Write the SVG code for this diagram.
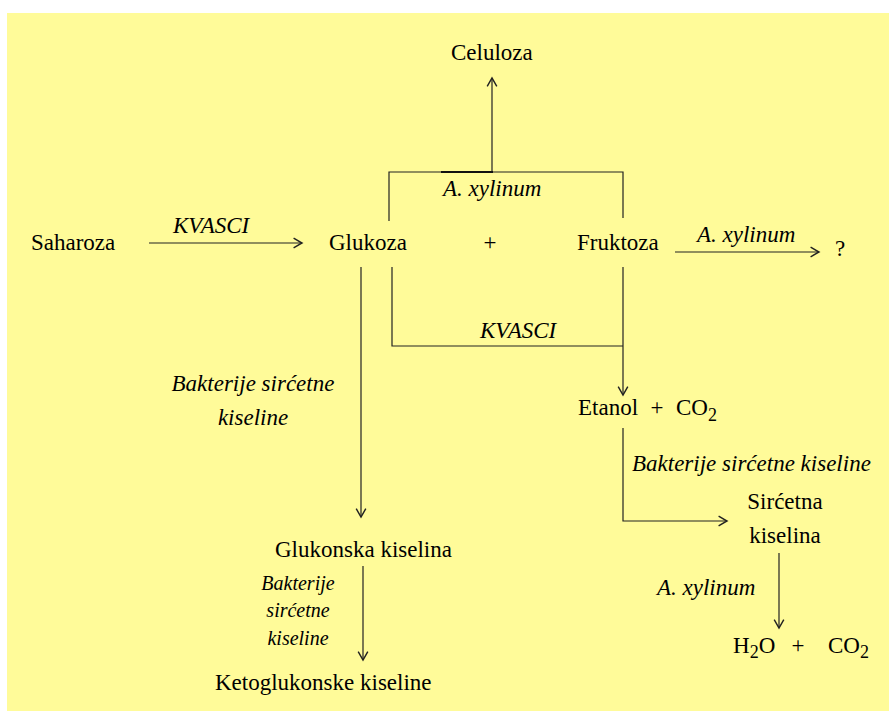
<svg xmlns="http://www.w3.org/2000/svg" width="889" height="711" viewBox="0 0 889 711">
<defs>
<style>
.t{font-family:'Liberation Serif','Times New Roman','DejaVu Serif',serif;font-size:23px;fill:#000}
.i{font-style:italic}
.s{font-size:20px}
.sub{font-size:18px}
.ln{fill:none;stroke:#222;stroke-width:1.2}
</style>
<marker id="ah" markerUnits="userSpaceOnUse" markerWidth="12" markerHeight="12" viewBox="-8 -5 10 10" refX="0" refY="0" orient="auto">
<path d="M-7,-4 L0,0 L-7,4" fill="none" stroke="#222" stroke-width="1.2"/>
</marker>
</defs>
<rect x="0" y="0" width="889" height="711" fill="#fff"/>
<rect x="7" y="13" width="882" height="698" fill="#FFFB99"/>
<g id="connectors">
<line class="ln" x1="492" y1="172" x2="492" y2="78" marker-end="url(#ah)"/>
<polyline class="ln" points="389,221 389,172 623,172 623,218"/>
<line x1="441" y1="172" x2="493" y2="172" stroke="#111" stroke-width="2.2"/>
<line class="ln" x1="149" y1="243" x2="302" y2="243" marker-end="url(#ah)"/>
<line class="ln" x1="675" y1="252" x2="819" y2="252" marker-end="url(#ah)"/>
<line class="ln" x1="361" y1="267" x2="361" y2="517" marker-end="url(#ah)"/>
<polyline class="ln" points="392,267 392,346 623,346"/>
<line class="ln" x1="623" y1="267" x2="623" y2="395" marker-end="url(#ah)"/>
<polyline class="ln" points="623,428 623,521 727,521" marker-end="url(#ah)"/>
<line class="ln" x1="779" y1="553" x2="779" y2="628" marker-end="url(#ah)"/>
<line class="ln" x1="363" y1="566" x2="363" y2="660" marker-end="url(#ah)"/>
</g>
<g id="celuloza"><text class="t" x="451" y="60">Celuloza</text></g>
<g id="saharoza"><text class="t" x="31" y="250">Saharoza</text></g>
<g id="label-kvasci-1"><text class="t i" x="173" y="233">KVASCI</text></g>
<g id="glukoza"><text class="t" x="329" y="250">Glukoza</text></g>
<g id="plus-1"><text class="t" x="490" y="250" text-anchor="middle">+</text></g>
<g id="fruktoza"><text class="t" x="577" y="250">Fruktoza</text></g>
<g id="label-xylinum-1"><text class="t i" x="443" y="196">A. xylinum</text></g>
<g id="label-xylinum-2"><text class="t i" x="697" y="242">A. xylinum</text></g>
<g id="question"><text class="t" x="835" y="256">?</text></g>
<g id="label-kvasci-2"><text class="t i" x="480" y="338">KVASCI</text></g>
<g id="label-bakterije-1"><text class="t i" x="253" y="391" text-anchor="middle">Bakterije sirćetne</text><text class="t i" x="253" y="425" text-anchor="middle">kiseline</text></g>
<g id="etanol"><text class="t" x="578" y="415">Etanol</text><text class="t" x="657" y="415" text-anchor="middle">+</text><text class="t" x="676" y="415">CO<tspan class="sub" dy="6">2</tspan></text></g>
<g id="label-bakterije-2"><text class="t i" x="632" y="471">Bakterije sirćetne kiseline</text></g>
<g id="sircetna"><text class="t" x="785" y="509" text-anchor="middle">Sirćetna</text><text class="t" x="785" y="543" text-anchor="middle">kiselina</text></g>
<g id="label-xylinum-3"><text class="t i" x="657" y="595">A. xylinum</text></g>
<g id="h2o-co2"><text class="t" x="733" y="653">H<tspan class="sub" dy="5">2</tspan><tspan dy="-5">O</tspan></text><text class="t" x="798" y="653" text-anchor="middle">+</text><text class="t" x="828" y="653">CO<tspan class="sub" dy="5">2</tspan></text></g>
<g id="glukonska"><text class="t" x="275" y="557">Glukonska kiselina</text></g>
<g id="label-bakterije-3"><text class="t i s" x="298" y="590" text-anchor="middle">Bakterije</text><text class="t i s" x="298" y="617" text-anchor="middle">sirćetne</text><text class="t i s" x="298" y="645" text-anchor="middle">kiseline</text></g>
<g id="ketoglukonske"><text class="t" x="215" y="690">Ketoglukonske kiseline</text></g>
</svg>
